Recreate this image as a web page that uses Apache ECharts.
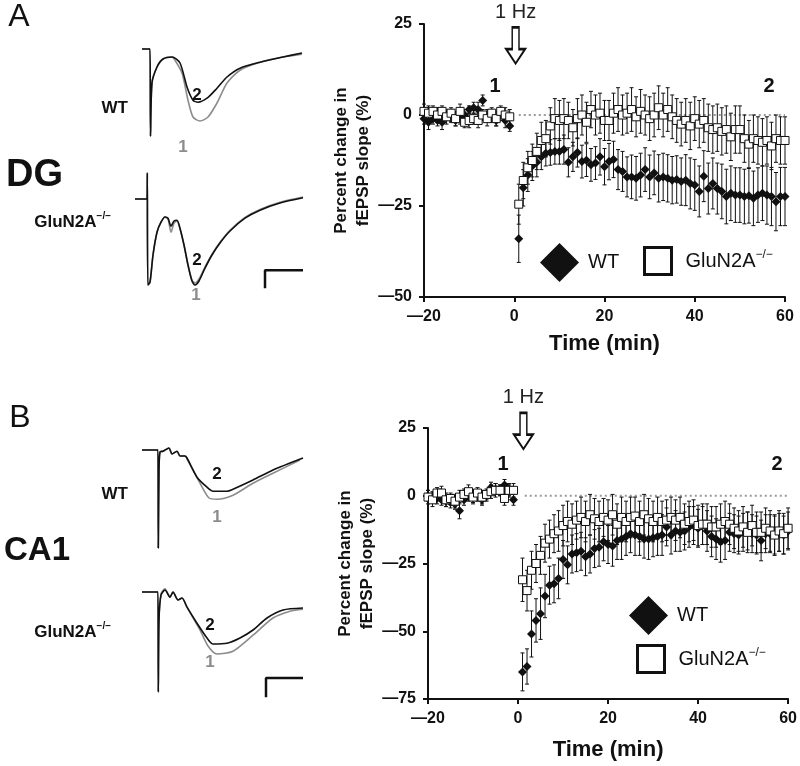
<!DOCTYPE html>
<html>
<head>
    <meta charset="utf-8" />
    <title>LTD DG / CA1</title>
    <script src="https://cdn.jsdelivr.net/npm/echarts@6/dist/echarts.min.js"></script>
    <style>
        html, body { margin: 0; padding: 0; background: #fff; }
        #chart { width: 800px; height: 766px; }
    </style>
</head>
<body>
    <div id="chart"></div>
    <script>
        // time points (min), 20 baseline + 60 after 1 Hz stimulation
        let minutes = [-20, -19, -18, -17, -16, -15, -14, -13, -12, -11, -10, -9, -8, -7, -6, -5, -4, -3, -2, -1,
            1, 2, 3, 4, 5, 6, 7, 8, 9, 10, 11, 12, 13, 14, 15, 16, 17, 18, 19, 20,
            21, 22, 23, 24, 25, 26, 27, 28, 29, 30, 31, 32, 33, 34, 35, 36, 37, 38, 39, 40,
            41, 42, 43, 44, 45, 46, 47, 48, 49, 50, 51, 52, 53, 54, 55, 56, 57, 58, 59, 60];

        // DG (panel A)
        let dgWT = [-1, -2, -1, -1.5, -2, 0, -1, -1.5, -0.5, 0, 1.5, 2, 1.5, 4, 0, -1, -1.5, 0, -1.5, -3,
            -34, -20, -16.5, -14, -13, -11.5, -10.5, -10.3, -10, -10,
            -9.5, -13, -11.5, -10.3, -12.8, -12.4, -13.7, -13.2, -11.5, -14.2,
            -12.8, -12.2, -15, -15.5, -17, -17, -17.4, -16.5, -15, -17,
            -15.9, -17.4, -17, -17.4, -17.9, -17.7, -18.3, -17.9, -18.8, -19.2,
            -21, -16.8, -20.2, -18.8, -20.2, -21, -22.4, -21.5, -22, -22,
            -22.4, -22.2, -22.9, -22, -21.5, -22, -22.4, -23.8, -22.4, -22.4];
        let dgWTerr = [1.5, 2, 1.5, 1.5, 2, 1.5, 1, 1.5, 2, 1.5, 1, 1.5, 2, 1.5, 1.5, 1, 1.5, 1.5, 2, 1.5,
            6.5, 5, 4.5, 4, 4, 3.5, 3.5, 3.5, 3.5, 3.5,
            4, 4, 4, 4, 4.5, 4.5, 4.5, 4.5, 5, 5,
            5, 5, 5.5, 5.5, 5.5, 6, 6, 6, 6, 6,
            6, 6.5, 6.5, 6.5, 6.5, 6.5, 6.5, 7, 7, 7,
            7, 7, 7, 7, 7, 7.5, 7.5, 7.5, 7.5, 7.5,
            7.5, 7.5, 7.5, 7.5, 7.5, 8, 8, 8, 8, 8];
        let dgKO = [1, 0.5, 1, 0, 1, -0.5, 0.5, -1, 1, -2, -1.5, -1, -1.5, 0, -1, 0.5, -1, 1, 0, -0.5,
            -24.5, -18, -14.5, -12.5, -10, -7, -6.5, -3, -1, -1.5,
            -1, -1.5, -3.5, -1, 0, -2, 1.5, 0, 0.5, -1.5,
            -1.5, 0.5, 1.5, 0, 0.5, 1.5, -0.5, 1, 0, -1,
            0, 2, 0, 1.5, -0.5, -1.5, -2.5, -1.5, -3, -1,
            -2.5, -1.5, -3.5, -4, -3.5, -4.5, -4, -6, -4, -4,
            -6.5, -8, -6.5, -7, -7.5, -7, -8.5, -6.5, -7, -7];
        let dgKOerr = [2, 2, 1.5, 2, 1.5, 2, 1.5, 2, 2, 1.5, 2, 1.5, 2, 1.5, 2, 1.5, 2, 1.5, 2, 2,
            5.5, 5, 4.5, 4.5, 5, 5, 5, 5, 5.5, 5.5,
            5.5, 5, 5, 5.5, 5.5, 5.5, 5, 5.5, 5.5, 5.5,
            5.5, 5.5, 6, 5.5, 5.5, 6, 5.5, 6, 5.5, 6,
            6, 6, 6, 6, 6, 6, 6, 6, 6.5, 6,
            6.5, 6, 6.5, 6.5, 6.5, 6.5, 6.5, 6.5, 6.5, 6.5,
            6.5, 6.5, 6.5, 6.5, 6.5, 6.5, 6.5, 6.5, 6.5, 6.5];

        // CA1 (panel B)
        let ca1WT = [0, -0.5, -1, -1.5, -2, -2.5, -3, -5.5, -1.5, 0, -0.5, 0, -1.5, 0, 3, 2.5, 2, 4, 2, -1.5,
            -65, -63, -51, -46, -43.5, -37, -33, -32.5, -30.5, -23.5,
            -25.5, -21.5, -21, -20.5, -22.5, -21.5, -19.5, -19, -17, -18,
            -18.5, -16.5, -16, -15, -14, -14.5, -15, -16, -16, -15.5,
            -15, -14.5, -11.5, -14.5, -13, -13.5, -13, -11.5, -11, -12,
            -11, -13, -15, -16, -17, -16.5, -13.5, -14, -14.5, -13.5,
            -13, -14, -14.5, -16.5, -14, -14, -14.5, -13.5, -14.5, -13];
        let ca1WTerr = [2, 2, 2, 2, 2, 2, 2, 3, 2, 2, 2, 2, 2, 2, 2, 2, 2, 2, 2, 2,
            7, 6.5, 8.5, 8, 9.5, 8, 7, 7, 7.5, 7,
            7, 7, 7, 7, 7, 7, 7, 7, 7, 7,
            7.5, 7, 7.5, 7, 7, 7.5, 7, 7, 7.5, 7,
            7, 7.5, 7, 7, 7.5, 7, 7, 7.5, 7, 7,
            7, 7.5, 7.5, 7.5, 7.5, 7, 7, 7, 7, 7,
            7, 7, 7, 7.5, 7, 7, 7, 7, 7, 7];
        let ca1KO = [-0.5, -1.5, 1, 1, -1.5, -1, -2, -0.5, 0.5, 1.5, -0.5, 1, -0.5, 0.5, 1.5, 2, 2, -1, 2, 2,
            -31, -35, -27.5, -25, -22, -17.5, -16, -14, -13, -11,
            -9.5, -10.5, -9, -8, -9.5, -7, -8.5, -9.5, -8, -9,
            -7, -10.5, -8, -9.5, -8, -7.5, -9.5, -7, -8.5, -9.5,
            -8, -9.5, -9, -8, -9, -8, -10.5, -9.5, -9, -11,
            -10.5, -10.5, -11.5, -11.5, -10.5, -9.5, -10.5, -12, -13, -11.5,
            -13.5, -11, -13.5, -13.5, -12, -13, -14.5, -13, -14, -12];
        let ca1KOerr = [2.5, 2.5, 2, 2.5, 2.5, 2, 2.5, 2.5, 2, 2.5, 2.5, 2, 2.5, 2, 2.5, 2.5, 2, 2.5, 2.5, 2.5,
            8, 7.5, 7, 7, 7, 7, 7, 7, 7.5, 7.5,
            7.5, 7.5, 7, 7.5, 7.5, 7.5, 7.5, 7.5, 7, 7.5,
            7.5, 7.5, 7.5, 7.5, 7.5, 7, 7.5, 7.5, 7.5, 7.5,
            7.5, 7.5, 7.5, 7.5, 7.5, 7.5, 7.5, 7.5, 7.5, 7.5,
            7.5, 7.5, 7.5, 7.5, 7.5, 7.5, 7.5, 7.5, 7.5, 7.5,
            7.5, 7.5, 7.5, 7.5, 7.5, 7.5, 7.5, 7.5, 7.5, 7.5];

        // example fEPSP traces: [ms, mV]; 1 = baseline (grey), 2 = after LFS (black)
        let dgWtTrace1 = [[0, 0], [1.6, 0], [1.7, -2.18], [2.0, -0.85], [3.0, -0.45], [4.2, -0.25], [6.0, -0.2],
            [6.6, -0.28], [8.0, -0.6], [9.2, -1.28], [10.2, -1.7], [11.6, -1.8], [13.2, -1.7], [15.0, -1.35],
            [17.0, -0.85], [19.6, -0.53], [23.6, -0.33], [28.2, -0.2], [32.0, -0.13]];
        let dgWtTrace2 = [[0, 0], [1.6, 0], [1.7, -2.18], [2.0, -0.85], [3.0, -0.45], [4.2, -0.25], [6.0, -0.2],
            [7.6, -0.35], [9.0, -0.95], [10.2, -1.28], [11.2, -1.33], [13.0, -1.23], [15.0, -0.98],
            [17.0, -0.7], [19.6, -0.48], [23.6, -0.33], [28.2, -0.2], [32.0, -0.1]];
        let dgKoTrace1 = [[-1.4, 0], [1.0, 0], [1.06, 0.65], [1.16, -2.15], [1.6, -2.08], [2.2, -1.4], [3.0, -0.83],
            [3.8, -0.58], [4.6, -0.45], [5.2, -0.5], [5.8, -0.83], [6.4, -0.6], [7.0, -0.55], [7.6, -0.75],
            [8.4, -1.15], [9.2, -1.65], [10.0, -2.03], [10.6, -2.1], [11.4, -2.0], [12.6, -1.7], [14.0, -1.38],
            [15.6, -1.08], [17.6, -0.78], [20.6, -0.46], [23.6, -0.26], [27.6, -0.08], [32.2, 0.05]];
        let dgKoTrace2 = [[-1.4, 0], [1.0, 0], [1.06, 0.65], [1.16, -2.15], [1.6, -2.08], [2.2, -1.4], [3.0, -0.83],
            [3.8, -0.58], [4.6, -0.45], [5.2, -0.48], [5.8, -0.68], [6.4, -0.55], [7.0, -0.53], [7.6, -0.73],
            [8.4, -1.15], [9.2, -1.65], [10.0, -2.05], [10.6, -2.15], [11.4, -2.05], [12.6, -1.73], [14.0, -1.4],
            [15.6, -1.1], [17.6, -0.8], [20.6, -0.48], [23.6, -0.28], [27.6, -0.1], [32.2, 0.03]];
        let ca1WtTrace1 = [[0, 0], [3.2, 0], [3.26, -2.45], [3.4, -0.5], [3.6, -0.05], [4.2, -0.03], [5.4, 0.05],
            [6.0, -0.1], [7.0, -0.03], [7.6, -0.15], [8.6, -0.15], [9.0, -0.22], [11.6, -0.83], [13.4, -1.2],
            [15.0, -1.23], [18.2, -1.13], [22.2, -0.83], [26.2, -0.58], [31.6, -0.25]];
        let ca1WtTrace2 = [[0, 0], [3.2, 0], [3.26, -2.45], [3.4, -0.5], [3.6, -0.05], [4.2, -0.03], [5.4, 0.05],
            [6.0, -0.1], [7.0, -0.03], [7.6, -0.15], [8.6, -0.15], [9.0, -0.2], [11.0, -0.68], [13.0, -0.93],
            [14.2, -1.03], [17.0, -1.03], [18.2, -0.98], [22.2, -0.75], [26.2, -0.5], [32.2, -0.2]];
        let ca1KoTrace1 = [[0, 0], [3.2, 0], [3.26, -2.5], [3.4, -0.7], [3.8, -0.05], [4.6, 0.08], [5.6, -0.13],
            [6.2, 0], [7.2, -0.2], [8.0, -0.15], [9.0, -0.38], [11.6, -0.95], [13.2, -1.35], [15.0, -1.55],
            [18.2, -1.48], [22.2, -1.08], [26.2, -0.65], [29.6, -0.48], [32.2, -0.43]];
        let ca1KoTrace2 = [[0, 0], [3.2, 0], [3.26, -2.5], [3.4, -0.7], [3.8, -0.08], [4.6, 0.05], [5.6, -0.13],
            [6.2, 0], [7.2, -0.2], [8.0, -0.15], [9.0, -0.38], [11.0, -0.78], [13.0, -1.15], [14.2, -1.3],
            [17.0, -1.28], [19.6, -1.15], [22.2, -0.95], [25.0, -0.65], [28.2, -0.45], [32.2, -0.4]];
        // scale bars
        let dgScaleBar = [[24.6, -2.23], [24.6, -1.78], [32.2, -1.78]];
        let ca1ScaleBar = [[24.8, -2.63], [24.8, -2.15], [32.2, -2.15]];

        let KO = 'GluN2A\u2212/\u2212';
        let FONT = 'Liberation Sans, Arial, sans-serif';
        let BLACK = '#111';
        let GREY = '#8c8c8c';
        let ARROW = 'path://M35,0 L65,0 L65,60 L92,60 L50,100 L8,60 L35,60 Z';

        function pts(vals, errs) {
            return minutes.map(function (t, i) { return [t, vals[i], errs[i]]; });
        }

        function errRender(params, api) {
            let x = api.value(0), y = api.value(1), e = api.value(2);
            let hi = api.coord([x, y + e]);
            let lo = api.coord([x, y - e]);
            let st = { stroke: BLACK, lineWidth: 1 };
            return {
                type: 'group',
                children: [
                    { type: 'line', shape: { x1: hi[0], y1: hi[1], x2: lo[0], y2: lo[1] }, style: st },
                    { type: 'line', shape: { x1: hi[0] - 2, y1: hi[1], x2: hi[0] + 2, y2: hi[1] }, style: st },
                    { type: 'line', shape: { x1: lo[0] - 2, y1: lo[1], x2: lo[0] + 2, y2: lo[1] }, style: st }
                ]
            };
        }

        let minus = function (v) { return v < 0 ? '\u2014' + Math.abs(v) : String(v); };

        function plotX(gi, gap) {
            return {
                gridIndex: gi, type: 'value', min: -20, max: 60, interval: 20,
                axisLine: { show: true, onZero: false, lineStyle: { color: BLACK, width: 2 } },
                axisTick: { show: true, length: 5, lineStyle: { color: BLACK, width: 2 } },
                axisLabel: { fontSize: 16, fontWeight: 'bold', color: BLACK, margin: 12, formatter: minus },
                splitLine: { show: false },
                name: 'Time (min)', nameLocation: 'middle', nameGap: gap,
                nameTextStyle: { fontSize: 22, fontWeight: 'bold', color: BLACK }
            };
        }
        function plotY(gi, mn) {
            return {
                gridIndex: gi, type: 'value', min: mn, max: 25, interval: 25,
                axisLine: { show: true, onZero: false, lineStyle: { color: BLACK, width: 2 } },
                axisTick: { show: true, length: 5, lineStyle: { color: BLACK, width: 2 } },
                axisLabel: { fontSize: 16, fontWeight: 'bold', color: BLACK, margin: 12, formatter: minus },
                splitLine: { show: false },
                name: 'Percent change in\nfEPSP slope (%)', nameLocation: 'middle', nameRotate: 90, nameGap: 50,
                nameTextStyle: { fontSize: 17, fontWeight: 'bold', color: BLACK, lineHeight: 22 }
            };
        }
        function traceAxis(gi, mn, mx) {
            return {
                gridIndex: gi, type: 'value', min: mn, max: mx, show: false,
                axisLine: { onZero: false }, splitLine: { show: false }
            };
        }
        function trace(gi, data, color) {
            return {
                type: 'line', xAxisIndex: gi, yAxisIndex: gi, data: data, symbol: 'none', smooth: 0.25,
                silent: true, lineStyle: { color: color, width: 1.6 }
            };
        }
        function scatter(gi, name, vals, errs, sym) {
            let ko = sym === 'rect';
            return {
                type: 'scatter', name: name, xAxisIndex: gi, yAxisIndex: gi, data: pts(vals, errs),
                symbol: sym, symbolSize: ko ? 8 : 9, z: ko ? 4 : 3,
                itemStyle: ko ? { color: '#fff', borderColor: BLACK, borderWidth: 1, opacity: 1 } : { color: BLACK, opacity: 1 }
            };
        }
        function errors(gi, vals, errs) {
            return {
                type: 'custom', xAxisIndex: gi, yAxisIndex: gi, data: pts(vals, errs),
                renderItem: errRender, silent: true, z: 2
            };
        }
        function zeroLine(gi, start, arrowAt) {
            return {
                type: 'line', xAxisIndex: gi, yAxisIndex: gi, data: [[start, 0], [60, 0]], symbol: 'none',
                silent: true, z: 1, lineStyle: { color: '#999', width: 2, type: [2, 3] },
                markPoint: {
                    silent: true, symbol: ARROW, symbolSize: [19, 36],
                    itemStyle: { color: '#fff', borderColor: BLACK, borderWidth: 2 },
                    label: { show: true, position: 'top', distance: 4, formatter: '1 Hz', fontSize: 20, color: '#222', fontFamily: FONT },
                    data: [{ coord: arrowAt }]
                }
            };
        }
        function legendItem(name, left, top, size, icon) {
            let ko = icon === 'rect';
            return {
                data: [name], left: left, top: top, itemWidth: size, itemHeight: size, icon: icon,
                selectedMode: false, padding: 0,
                itemStyle: ko ? { color: '#fff', borderColor: BLACK, borderWidth: 3 } : { color: BLACK },
                formatter: function (n) { return n === 'WT' ? '{w|WT}' : '{w|GluN2A}{s|\u2212/\u2212}'; },
                textStyle: {
                    color: BLACK, fontFamily: FONT,
                    rich: {
                        w: { fontSize: 20, fontFamily: FONT, color: BLACK, padding: [0, 0, 0, ko ? 9 : 4] },
                        s: { fontSize: 12, fontFamily: FONT, color: BLACK, verticalAlign: 'top', padding: [0, 0, 12, 0] }
                    }
                }
            };
        }
        function txt(t, x, y, size, opts) {
            opts = opts || {};
            return {
                type: 'text', x: x, y: y, silent: true,
                style: {
                    text: t, fontSize: size, fontWeight: opts.weight || 'bold', fontFamily: FONT,
                    fill: opts.fill || BLACK, align: opts.align || 'center', verticalAlign: 'middle',
                    rich: opts.rich
                }
            };
        }
        let geneRich = {
            g: { fontSize: 17, fontWeight: 'bold', fontFamily: FONT, fill: BLACK },
            s: { fontSize: 10, fontWeight: 'bold', fontFamily: FONT, fill: BLACK, padding: [0, 0, 12, 0] }
        };

        let option = {
            animation: false,
            backgroundColor: '#fff',
            textStyle: { fontFamily: FONT },
            grid: [
                { left: 424, top: 24, width: 361, height: 273 },
                { left: 428, top: 428, width: 361, height: 271 },
                { left: 132, top: 39, width: 175, height: 102 },
                { left: 132, top: 167, width: 175, height: 128 },
                { left: 132, top: 440, width: 175, height: 112 },
                { left: 132, top: 582, width: 175, height: 120 }
            ],
            xAxis: [
                plotX(0, 36), plotX(1, 40),
                traceAxis(2, -2, 33), traceAxis(3, -2, 33), traceAxis(4, -2, 33), traceAxis(5, -2, 33)
            ],
            yAxis: [
                plotY(0, -50), plotY(1, -75),
                traceAxis(2, -2.3, 0.25), traceAxis(3, -2.4, 0.8), traceAxis(4, -2.55, 0.25), traceAxis(5, -2.75, 0.25)
            ],
            legend: [
                legendItem('WT', 540, 243, 39, 'diamond'),
                legendItem(KO, 643, 246, 27, 'rect'),
                legendItem('WT', 629, 596, 39, 'diamond'),
                legendItem(KO, 636, 644, 27, 'rect')
            ],
            graphic: [
                txt('A', 19, 17, 32, { weight: 'normal' }),
                txt('B', 20, 418, 32, { weight: 'normal' }),
                txt('DG', 6, 176, 38, { align: 'left' }),
                txt('CA1', 4, 551, 33, { align: 'left' }),
                txt('WT', 128, 108, 17, { align: 'right' }),
                txt('{g|GluN2A}{s|\u2212/\u2212}', 111, 222, 17, { align: 'right', rich: geneRich }),
                txt('WT', 128, 494, 17, { align: 'right' }),
                txt('{g|GluN2A}{s|\u2212/\u2212}', 111, 632, 17, { align: 'right', rich: geneRich }),
                txt('2', 197, 95, 17), txt('1', 183, 147, 17, { fill: GREY }),
                txt('2', 197, 260, 17), txt('1', 196, 295, 17, { fill: GREY }),
                txt('2', 217, 474, 17), txt('1', 217, 517, 17, { fill: GREY }),
                txt('2', 210, 625, 17), txt('1', 210, 662, 17, { fill: GREY }),
                txt('1', 495, 86, 20), txt('2', 769, 86, 20),
                txt('1', 503, 464, 20), txt('2', 777, 464, 20)
            ],
            series: [
                zeroLine(0, 1, [0.3, 19.1]),
                zeroLine(1, 1.5, [1.2, 23.9]),
                errors(0, dgWT, dgWTerr), errors(0, dgKO, dgKOerr),
                errors(1, ca1WT, ca1WTerr), errors(1, ca1KO, ca1KOerr),
                scatter(0, 'WT', dgWT, dgWTerr, 'diamond'),
                scatter(0, KO, dgKO, dgKOerr, 'rect'),
                scatter(1, 'WT', ca1WT, ca1WTerr, 'diamond'),
                scatter(1, KO, ca1KO, ca1KOerr, 'rect'),
                trace(2, dgWtTrace1, GREY), trace(2, dgWtTrace2, BLACK),
                trace(3, dgKoTrace1, GREY), trace(3, dgKoTrace2, BLACK),
                trace(4, ca1WtTrace1, GREY), trace(4, ca1WtTrace2, BLACK),
                trace(5, ca1KoTrace1, GREY), trace(5, ca1KoTrace2, BLACK),
                {
                    type: 'line', xAxisIndex: 3, yAxisIndex: 3, data: dgScaleBar, symbol: 'none', silent: true,
                    lineStyle: { color: BLACK, width: 2.5 }
                },
                {
                    type: 'line', xAxisIndex: 5, yAxisIndex: 5, data: ca1ScaleBar, symbol: 'none', silent: true,
                    lineStyle: { color: BLACK, width: 2.5 }
                }
            ]
        };

        echarts.init(document.getElementById('chart')).setOption(option);
    </script>
</body>
</html>
